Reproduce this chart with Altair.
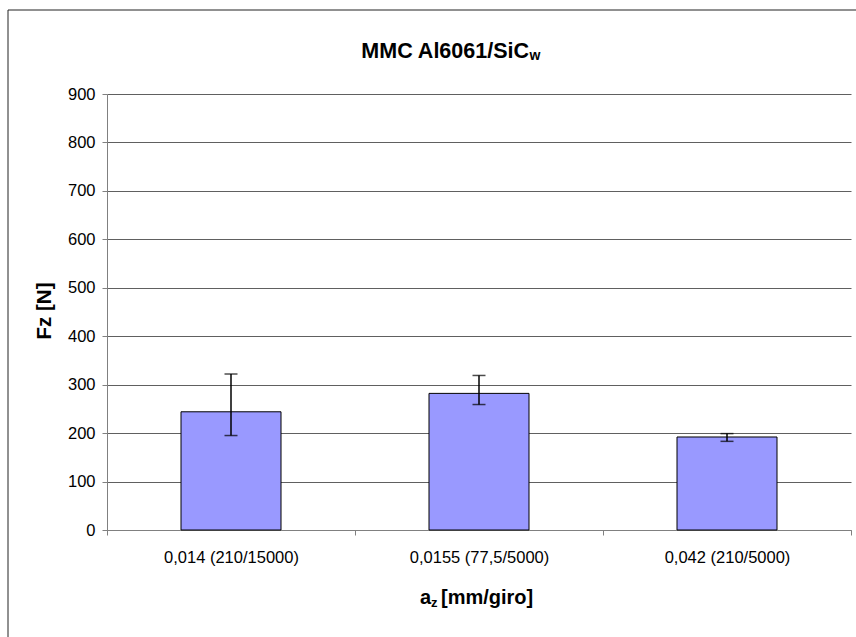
import altair as alt
import pandas as pd

categories = ["0,014 (210/15000)", "0,0155 (77,5/5000)", "0,042 (210/5000)"]
fz_values = [244, 282, 192]
err_low = [195, 259, 183]
err_high = [322, 319, 199]

title_main = "MMC Al6061/SiC"
title_sub = "w"
ytitle = "Fz [N]"
xtitle_a = "a"
xtitle_sub = "z"
xtitle_rest = "[mm/giro]"

df = pd.DataFrame({"cat": categories, "fz": fz_values, "lo": err_low, "hi": err_high})
one = pd.DataFrame({"k": [0]})

W, H = 744, 436
FONT = "Liberation Sans"

x_enc = alt.X("cat:N", sort=categories, title=None,
              scale=alt.Scale(paddingInner=0, paddingOuter=0),
              axis=alt.Axis(labelAngle=0, labelFontSize=16.5, labelFont=FONT, labelColor="black",
                            labelPadding=14, tickSize=5, tickBand="extent", tickColor="#808080",
                            domainColor="#808080", grid=False))
y_scale = alt.Scale(domain=[0, 900], nice=False)

base = alt.Chart(df)

bars = base.mark_bar(size=100, fill="#9999FF", stroke="black", strokeWidth=1).encode(
    x=x_enc,
    y=alt.Y("fz:Q", scale=y_scale, title=None,
            axis=alt.Axis(values=list(range(0, 1000, 100)), labelFontSize=16.5, labelFont=FONT,
                          labelColor="black", labelPadding=7, tickSize=5, tickColor="#808080",
                          domainColor="#808080", gridColor="#606060", gridWidth=1)),
)

rules = base.mark_rule(color="black", strokeWidth=1.5).encode(
    x=alt.X("cat:N", sort=categories), y=alt.Y("lo:Q", scale=y_scale), y2="hi:Q")
cap_hi = base.mark_tick(color="black", size=13, thickness=1.5).encode(
    x=alt.X("cat:N", sort=categories), y=alt.Y("hi:Q", scale=y_scale))
cap_lo = base.mark_tick(color="black", size=13, thickness=1.5).encode(
    x=alt.X("cat:N", sort=categories), y=alt.Y("lo:Q", scale=y_scale))

border = alt.Chart(one).mark_rect(fill=None, stroke="#222222", strokeWidth=1).encode(
    x=alt.value(-99), x2=alt.value(W + 40), y=alt.value(-84), y2=alt.value(H + 140))

t_main = alt.Chart(one).mark_text(text=title_main, font=FONT, fontSize=21.5, fontWeight="bold",
                                  align="right", baseline="alphabetic", color="black").encode(
    x=alt.value(422), y=alt.value(-36.5))
t_sub = alt.Chart(one).mark_text(text=title_sub, font=FONT, fontSize=14, fontWeight="bold",
                                 align="left", baseline="alphabetic", color="black").encode(
    x=alt.value(422.5), y=alt.value(-34.5))

y_t = alt.Chart(one).mark_text(text=ytitle, font=FONT, fontSize=20.5, fontWeight="bold", angle=270,
                               align="center", baseline="middle", color="black").encode(
    x=alt.value(-62), y=alt.value(217))

x_a = alt.Chart(one).mark_text(text=xtitle_a, font=FONT, fontSize=20, fontWeight="bold",
                               align="right", baseline="alphabetic", color="black").encode(
    x=alt.value(324), y=alt.value(510))
x_s = alt.Chart(one).mark_text(text=xtitle_sub, font=FONT, fontSize=13, fontWeight="bold",
                               align="left", baseline="alphabetic", color="black").encode(
    x=alt.value(324), y=alt.value(513))
x_r = alt.Chart(one).mark_text(text=xtitle_rest, font=FONT, fontSize=20, fontWeight="bold",
                               align="left", baseline="alphabetic", color="black").encode(
    x=alt.value(334), y=alt.value(510))

chart = alt.layer(bars, rules, cap_hi, cap_lo, border, t_main, t_sub, y_t, x_a, x_s, x_r).properties(
    width=W, height=H,
    autosize=alt.AutoSizeParams(type="none"),
    padding={"left": 107, "top": 94, "right": 5, "bottom": 107},
    background="white",
).configure_view(stroke=None)

chart.save("out.html", embed_options={"renderer": "svg", "actions": False})
